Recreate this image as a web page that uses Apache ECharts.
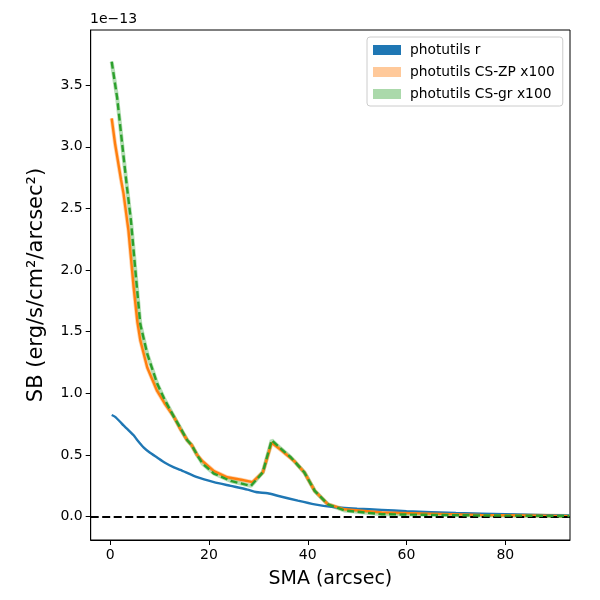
<!DOCTYPE html>
<html>
<head>
<meta charset="utf-8">
<script src="https://cdn.jsdelivr.net/npm/echarts@6/dist/echarts.min.js"></script>
<style>html,body{margin:0;padding:0;background:#fff}#c{width:600px;height:600px}</style>
</head>
<body>
<div id="c"></div>
<script>
// Values in units of 1e-13 erg/s/cm^2/arcsec^2
const blueSMA = [0.3,1,2,2.7,3.5,4.75,5.5,6.8,8,9.5,11,12.9,14.2,17.6,21,24.4,27.8,29.5,31.9,33.9,38,41.4,44.8,50,55,60,70,80,93];
const blueSB  = [0.825,0.81,0.77,0.74,0.71,0.66,0.62,0.56,0.52,0.48,0.44,0.40,0.38,0.32,0.28,0.25,0.22,0.20,0.19,0.17,0.13,0.10,0.08,0.065,0.055,0.045,0.03,0.02,0.008];

const zpSMA = [0.3,1.0,2.2,2.7,3.7,4.75,5.5,6.1,7.5,9.5,11,12.9,14.2,15.6,16.5,17.6,18.7,21,23.7,26.5,28.8,30.9,32.7,34.6,37.3,39.3,41.4,44.1,47.5,55,65,75,85,93];
const zpSB  = [3.23,3.02,2.73,2.62,2.32,1.86,1.58,1.43,1.21,1.02,0.92,0.81,0.71,0.62,0.58,0.50,0.45,0.37,0.32,0.30,0.28,0.36,0.60,0.54,0.45,0.36,0.21,0.10,0.06,0.035,0.025,0.015,0.01,0.005];

const grSMA = [0.3,1.4,2.7,3.4,4.2,5.4,6.1,7.5,9.5,11,12.9,14.2,15.6,16.5,17.6,18.7,21,24.4,28.5,30.9,32.7,34.6,36.6,39.3,41.4,44.1,47.5,55,65,75,85,93];
const grSB  = [3.69,3.40,2.92,2.67,2.40,1.86,1.56,1.32,1.08,0.95,0.81,0.72,0.62,0.58,0.50,0.43,0.35,0.29,0.25,0.36,0.62,0.55,0.48,0.36,0.21,0.10,0.05,0.02,0.015,0.01,0.008,0.005];

const xTicks = [0,20,40,60,80];
const yTicks = [0,0.5,1.0,1.5,2.0,2.5,3.0,3.5];

const legendNames = ['photutils r','photutils CS-ZP x100','photutils CS-gr x100'];

const zip = (a,b)=>a.map((v,i)=>[v,b[i]]);
const FONT = 'DejaVu Sans';

const chart = echarts.init(document.getElementById('c'));
chart.setOption({
  animation:false,
  textStyle:{fontFamily:FONT},
  grid:{left:90.7,right:30,top:30,bottom:60,show:true,borderColor:'#000',borderWidth:1,backgroundColor:'transparent'},
  graphic:[{type:'text',left:90,top:12,style:{text:'1e\u221213',font:'14px "DejaVu Sans"',fill:'#000'}}],
  legend:{
    left:367,top:37,orient:'vertical',
    width:196,
    padding:[6,8,5,6],
    borderColor:'#ccc',borderWidth:1,borderRadius:3,
    backgroundColor:'rgba(255,255,255,0.8)',
    icon:'rect',itemWidth:28,itemHeight:10,itemGap:8,
    textStyle:{fontSize:13.8,fontFamily:FONT,color:'#000',padding:[0,0,0,4]},
    data:[
      {name:legendNames[0],itemStyle:{color:'#1f77b4'}},
      {name:legendNames[1],itemStyle:{color:'#ffc99a'}},
      {name:legendNames[2],itemStyle:{color:'#abd9ab'}}
    ]
  },
  xAxis:{
    type:'value',min:-3.95,max:93.1,
    name:'SMA (arcsec)',nameLocation:'middle',nameGap:30,
    nameTextStyle:{fontSize:19,fontFamily:FONT,color:'#000'},
    axisLine:{show:true,onZero:false,lineStyle:{color:'#000'}},
    axisTick:{show:true,length:5,lineStyle:{color:'#000'},customValues:xTicks},
    axisLabel:{fontSize:14,fontFamily:FONT,color:'#000',margin:8,customValues:xTicks,formatter:v=>String(v)},
    splitLine:{show:false}
  },
  yAxis:{
    type:'value',min:-0.189,max:3.947,
    name:'SB (erg/s/cm\u00b2/arcsec\u00b2)',nameLocation:'middle',nameGap:44,
    nameTextStyle:{fontSize:21,fontFamily:FONT,color:'#000'},
    axisLine:{show:true,onZero:false,lineStyle:{color:'#000'}},
    axisTick:{show:true,length:5,lineStyle:{color:'#000'},customValues:yTicks},
    axisLabel:{fontSize:14,fontFamily:FONT,color:'#000',margin:8,customValues:yTicks,formatter:v=>v.toFixed(1)},
    splitLine:{show:false}
  },
  series:[
    {name:'zero',type:'line',data:[],silent:true,
     markLine:{silent:true,symbol:'none',label:{show:false},
       lineStyle:{color:'#000',type:[8,3.5],width:2},data:[{yAxis:0}]}},
    {name:legendNames[0],type:'line',data:zip(blueSMA,blueSB),showSymbol:false,smooth:0.2,
     lineStyle:{color:'#1f77b4',width:2.4},itemStyle:{color:'#1f77b4'},z:3},
    {name:legendNames[1],type:'line',data:zip(zpSMA,zpSB),showSymbol:false,
     lineStyle:{color:'#ff7f0e',width:4,opacity:0.35},itemStyle:{color:'#ffc99a'},z:2},
    {name:'zp-line',type:'line',data:zip(zpSMA,zpSB),showSymbol:false,
     lineStyle:{color:'#ff7f0e',width:2.4},itemStyle:{color:'#ff7f0e'},z:4},
    {name:legendNames[2],type:'line',data:zip(grSMA,grSB),showSymbol:false,
     lineStyle:{color:'#2ca02c',width:4,opacity:0.35},itemStyle:{color:'#abd9ab'},z:2},
    {name:'gr-line',type:'line',data:zip(grSMA,grSB),showSymbol:false,
     lineStyle:{color:'#2ca02c',width:2.4,type:[7,3.5]},itemStyle:{color:'#2ca02c'},z:5}
  ]
});
</script>
</body>
</html>
